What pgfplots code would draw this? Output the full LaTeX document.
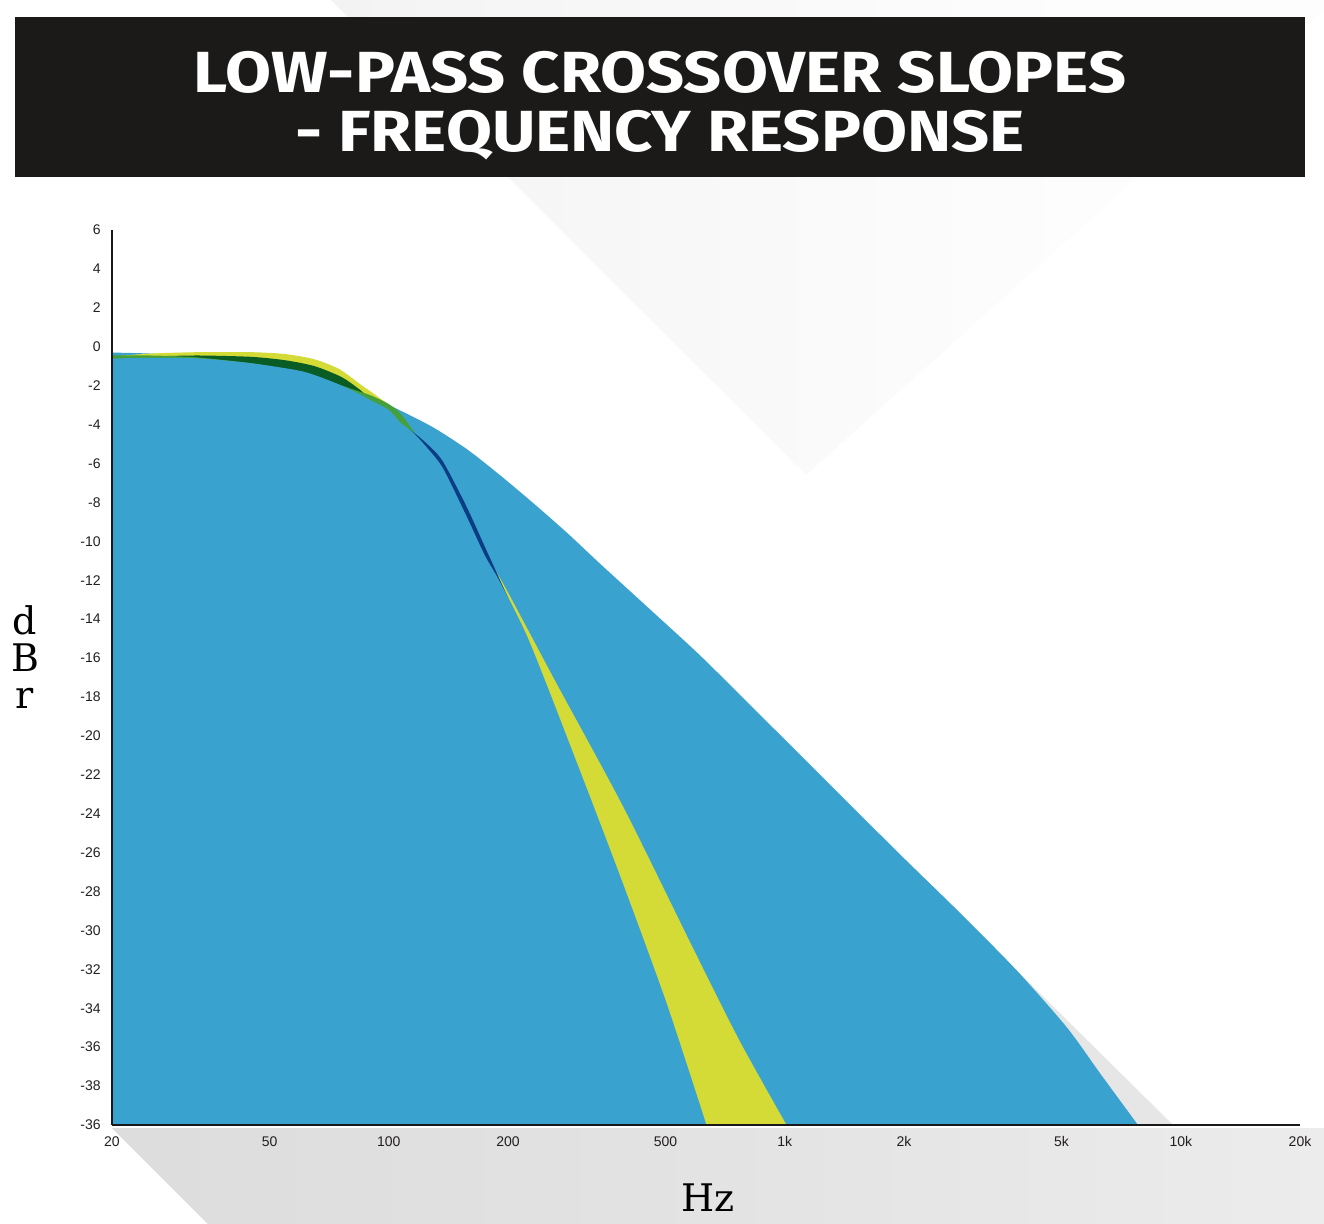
\documentclass[border=0pt]{standalone}
\usepackage{fontspec}
\usepackage{pgfplots}
\pgfplotsset{compat=1.18}
\usepgfplotslibrary{fillbetween}
\setmainfont{Liberation Sans}
\newfontfamily\titlefont[FakeStretch=1.15]{Fira Sans}
\newfontfamily\slabfont{DejaVu Serif}

\definecolor{titlebg}{HTML}{1B1A18}
\definecolor{wideblue}{HTML}{3AA2CF}
\definecolor{lemon}{HTML}{D4DB36}
\definecolor{darkgreen}{HTML}{0A5C25}
\definecolor{midgreen}{HTML}{46A03A}
\definecolor{navy}{HTML}{0B3C86}
\definecolor{shadow}{HTML}{E6E6E6}
\definecolor{ticktext}{HTML}{231F20}

\pgfdeclarehorizontalshading{wedge}{100bp}{color(0bp)=(black!9); color(30bp)=(black!4); color(60bp)=(black!1); color(100bp)=(white)}
\pgfdeclarehorizontalshading{floor}{100bp}{color(0bp)=(black!16); color(50bp)=(black!11); color(100bp)=(black!4)}

\begin{document}
\begin{tikzpicture}
% decoration and text, in pixel units of the reference (y down)
\begin{scope}[x=0.5pt,y=-0.5pt]
  \path[use as bounding box] (0,0) rectangle (1324,1224);
  \shade[shading=wedge] (331,0) -- (1324,0) -- (1324,10) -- (806,475) -- cycle;
  \shade[shading=floor] (112,1128) -- (208,1224) -- (1324,1224) -- (1324,1128) -- cycle;
  \fill[titlebg] (15,17) rectangle (1305,177);
  \node[white, anchor=base, inner sep=0pt, font=\titlefont\bfseries\fontsize{29}{29}\selectfont]
    at (660,93) {LOW-PASS CROSSOVER SLOPES};
  \node[white, anchor=base, inner sep=0pt, font=\titlefont\bfseries\fontsize{29}{29}\selectfont]
    at (660,152) {- FREQUENCY RESPONSE};
  \node[align=center, font=\slabfont\fontsize{19}{18.5}\selectfont] at (25,657) {d\\B\\r};
  \node[font=\slabfont\fontsize{19}{20}\selectfont] at (708,1198) {Hz};
\end{scope}

\begin{axis}[
  at={(56pt,-562.5pt)}, anchor=south west,
  scale only axis, width=594pt, height=447.5pt,
  xmode=log, log basis x=10,
  xmin=20, xmax=20000, ymin=-40, ymax=6,
  axis lines=left,
  axis line style={-, line width=1.3pt, black!90},
  tick style={draw=none},
  xtick={20,50,100,200,500,1000,2000,5000,10000,20000},
  xticklabels={20,50,100,200,500,1k,2k,5k,10k,20k},
  ytick={6,4,...,-40},
  yticklabels={6,4,2,0,-2,-4,-6,-8,-10,-12,-14,-16,-18,-20,-22,-24,-26,-28,-30,-32,-34,-36,-38,-36},
  tick label style={font=\fontsize{7}{8}\selectfont, text=ticktext},
  /pgf/number format/assume math mode=true,
  axis on top,
]
\addplot[name path=floor, draw=none, sharp plot] coordinates {(20,-40) (20000,-40)};

% grey shadow past the widest slope
\addplot[name path=sh, draw=none, sharp plot] coordinates {(3858,-32.07) (9560,-40)};
\addplot[shadow] fill between[of=sh and floor];

% widest slope
\addplot[name path=w, draw=none, smooth, tension=0.45] coordinates {
  (20,-0.3) (25,-0.35) (33,-0.5) (45,-0.8) (60,-1.25) (70,-1.65)
  (80,-2.1) (90,-2.55) (100,-3.0) (106.7,-3.27) (129.3,-4.14) (157.6,-5.27)
  (190.9,-6.6) (231.4,-8.03) (281.8,-9.56) (341.5,-11.15) (456.8,-13.5)
  (610.6,-15.86) (817,-18.41) (1093,-20.97) (1461,-23.53) (1954,-26.09)
  (2770,-29.1) (3858,-32.07) (5158,-34.99) (6252,-37.34) (7796,-40)
};
\addplot[wideblue] fill between[of=w and floor];

% yellow slope
\addplot[name path=y, draw=none, smooth, tension=0.45] coordinates {
  (20,-0.5) (25,-0.35) (33,-0.28) (45,-0.28) (55,-0.38) (65,-0.65)
  (75,-1.15) (85,-1.95) (90,-2.3) (95,-2.65) (100,-3.0) (110,-4.0)
  (120,-5.0) (150,-8.2) (170,-10.5) (191,-11.9) (265,-17.3) (392,-23.7)
  (586,-30.9) (770,-35.7) (1010,-40)
};
\addplot[lemon] fill between[of=y and floor];

% dark green slope
\addplot[name path=g, draw=none, smooth, tension=0.45] coordinates {
  (20,-0.55) (25,-0.5) (33,-0.45) (45,-0.52) (55,-0.7) (65,-1.0)
  (75,-1.5) (80,-1.85) (85,-2.25) (90,-2.7) (100,-3.4) (120,-5.3)
  (150,-8.6) (191,-12.7) (300,-23.2) (580,-40)
};
\addplot[darkgreen] fill between[of=g and floor];

% light green slope
\addplot[name path=l, draw=none, smooth, tension=0.45] coordinates {
  (20,-0.45) (25,-0.45) (30,-0.5) (33,-0.55) (45,-0.85) (60,-1.3)
  (70,-1.75) (80,-2.15) (90,-2.5) (100,-2.95) (107,-3.43) (115,-4.3)
  (125,-5.4) (150,-8.5) (191,-12.6) (300,-23) (580,-40)
};
\addplot[midgreen] fill between[of=l and floor];

% dark blue slope
\addplot[name path=d, draw=none, smooth, tension=0.45] coordinates {
  (20,-0.8) (60,-1.5) (80,-2.5) (100,-3.6) (107,-4.0) (115,-4.38)
  (125,-5.0) (137,-5.9) (157,-8.2) (175,-10.3) (191,-12.0) (227,-15.4)
  (304,-22) (392,-28) (504,-34) (625,-40)
};
\addplot[navy] fill between[of=d and floor];

% steepest slope
\addplot[name path=s, draw=none, smooth, tension=0.45] coordinates {
  (20,-0.6) (25,-0.58) (33,-0.6) (45,-0.85) (60,-1.25) (70,-1.7)
  (80,-2.2) (90,-2.75) (100,-3.25) (107,-3.9) (115,-4.4) (125,-5.2)
  (137,-6.25) (157,-8.7) (175,-10.75) (191,-12.1) (227,-15.2) (304,-21.8)
  (392,-27.7) (504,-33.8) (634,-40)
};
\addplot[wideblue] fill between[of=s and floor];
\end{axis}
\end{tikzpicture}
\end{document}
